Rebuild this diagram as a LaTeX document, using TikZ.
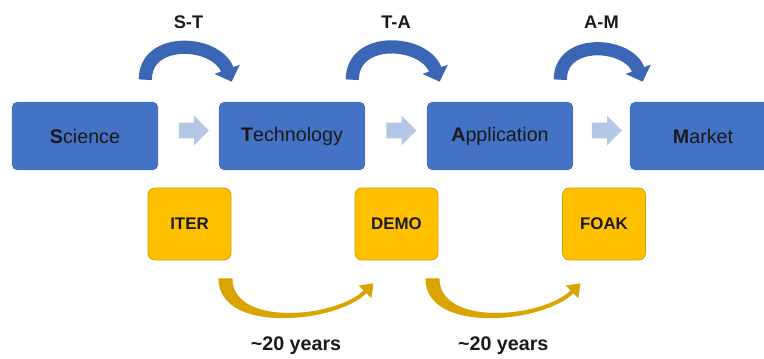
\documentclass[tikz,border=0pt]{standalone}
\usepackage{fontspec}
\setmainfont{Liberation Sans}
\usetikzlibrary{arrows.meta,shapes.arrows,calc}
\definecolor{stageblue}{HTML}{4472C4}
\definecolor{arcblue}{HTML}{3B66B5}
\definecolor{paleblue}{HTML}{B4C7E7}
\definecolor{gold}{HTML}{FFC000}
\definecolor{goldedge}{HTML}{D4A017}
\definecolor{arcgold}{HTML}{D9A300}
\definecolor{ink}{HTML}{1A1A1A}

\begin{document}
\begin{tikzpicture}[x=0.025cm, y=0.025cm,
	stage/.style={fill=stageblue, rounded corners=0.125cm, minimum width=3.65cm, minimum height=1.7cm, font=\fontsize{14}{16}\selectfont, text=ink},
	plant/.style={fill=gold, draw=goldedge, line width=0.6pt, rounded corners=0.175cm, minimum width=2.075cm, minimum height=1.8cm, font=\fontsize{12}{14}\selectfont\bfseries, text=ink},
	flow/.style={single arrow, fill=paleblue, inner sep=0.1875cm, minimum height=0.75cm, single arrow head extend=0.175cm, single arrow head indent=0cm},
	jump/.style={draw=arcblue, line width=0.33cm, -{Triangle[width=0.65cm,length=0.33cm]}},
	tag/.style={font=\fontsize{13}{15}\selectfont\bfseries, text=ink},
	years/.pic={
		\fill[arcgold] (-13,-18) .. controls (-13,-74) and (104,-63) .. (134.9,-32.9) -- (139.9,-37.9) -- (142,-23) -- (127.1,-25.1) -- (132.1,-30.1) .. controls (103,-58) and (1,-66) .. (1,-18) -- cycle;
	}
]
	\useasboundingbox (0,0) rectangle (764,358);
	\clip (0,0) rectangle (764,358);
	\node[stage] (sci) at (85,222) {\textbf{S}cience};
	\node[stage] (tech) at (292,222) {\textbf{T}echnology};
	\node[stage] (app) at (500,222) {\textbf{A}pplication};
	\node[stage] (mkt) at (703,222) {\textbf{M}arket};
	\node[plant] (iter) at (189.5,134) {ITER};
	\node[plant] (demo) at (396.5,134) {DEMO};
	\node[plant] (foak) at (604,134) {FOAK};
	\foreach \a/\b/\t in {sci/tech/S-T, tech/app/T-A, app/mkt/A-M}{
		\node[flow] (\a-\b) at ($(\a.east)!.5!(\b.west)+(1.5,5.5)$) {};
		\draw[jump] ($(\a.north east)+(-13,22)$) to[out=90, in=110, looseness=1.3] ($(\b.north west)+(13,20)$);
		\node[tag] (\t) at ($(\a.north east)!.5!(\b.north west)+(0,80)$) {\t};
	}
	\foreach \a/\b in {iter/demo, demo/foak}{
		\pic at (\a.south east) {years};
		\node[tag, font=\fontsize{14}{16}\selectfont\bfseries] (\a-yrs) at ($(\a.south)!.5!(\b.south)+(3,-85)$) {\textasciitilde 20 years};
	}
\end{tikzpicture}
\end{document}
